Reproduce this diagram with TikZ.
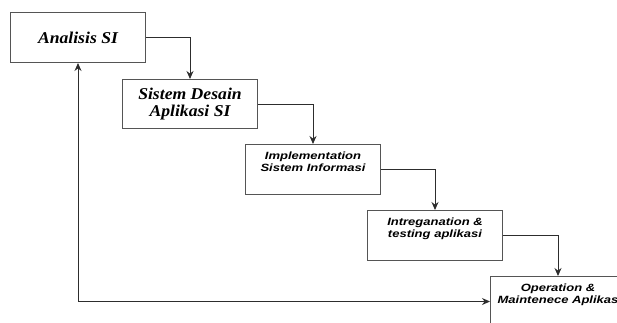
\documentclass[tikz,border=0pt]{standalone}
\usepackage{fontspec}
\newfontfamily\phaseserif[FakeStretch=1.07]{Liberation Serif}
\newfontfamily\phasesans[FakeStretch=1.24]{Liberation Sans}
\usetikzlibrary{arrows.meta,positioning}
\definecolor{wfgray}{RGB}{85,85,85}
\definecolor{wfdark}{RGB}{45,45,45}
\newcommand{\toptext}[1]{\parbox[c][42pt][t]{132pt}{\vspace*{3.5pt}\centering #1}}
\tikzstyle{phase} = [rectangle, anchor=north west, minimum width=135pt, minimum height=50pt, inner sep=0pt, draw=wfgray, line width=1pt]
\tikzstyle{serifphase} = [phase, align=center, font=\phaseserif\bfseries\itshape\fontsize{16.5}{16.5}\selectfont]
\tikzstyle{sansphase} = [phase, inner ysep=4pt, font=\phasesans\bfseries\itshape\fontsize{10.5}{11.5}\selectfont]
\tikzstyle{arrow} = [line width=1pt, color=wfdark, -{Stealth[length=8pt,width=7pt]}]
\tikzstyle{twoway} = [arrow, {Stealth[length=8pt,width=7pt]}-{Stealth[length=8pt,width=7pt]}]

\begin{document}
\begin{tikzpicture}[x=1pt,y=-1pt]
\path[use as bounding box, clip] (0,0) rectangle (617,322);
% Waterfall phases
\node (analisis) [serifphase] at (10,12) {Analisis SI};
\node (desain) [serifphase, minimum height=49pt] at (122,79) {Sistem Desain\\Aplikasi SI};
\node (implementasi) [sansphase] at (245,144) {\toptext{Implementation\\Sistem Informasi}};
\node (testing) [sansphase] at (367,210) {\toptext{Intreganation \&\\testing aplikasi}};
\node (operasi) [sansphase] at (490,276) {\toptext{Operation \&\\Maintenece Aplikas}};

% Arrows
\draw[arrow] (analisis.east) -| (desain.north);
\draw[arrow] (desain.east) -| (implementasi.north);
\draw[arrow] (implementasi.east) -| (testing.north);
\draw[arrow] (testing.east) -| (operasi.north);

% Feedback line
\draw[twoway] (operasi.west) -| (analisis.south);
\end{tikzpicture}
\end{document}
